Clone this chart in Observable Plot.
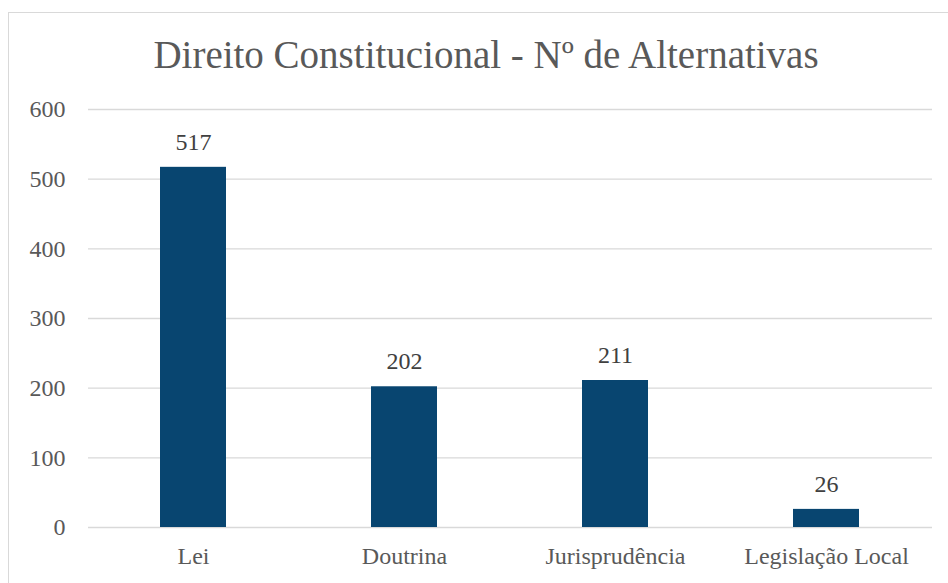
<!DOCTYPE html>
<html>
<head>
<meta charset="utf-8">
<script src="https://cdn.jsdelivr.net/npm/d3@7"></script>
<script src="https://cdn.jsdelivr.net/npm/@observablehq/plot@0.6"></script>
<style>
  html, body { margin: 0; padding: 0; background: #fff; overflow: hidden; }
  #frame { position: absolute; left: 8px; top: 12px; width: 1200px; height: 1000px;
           border-left: 1px solid #d9d9d9; border-top: 1px solid #d9d9d9; }
  #chart { position: absolute; left: 0; top: 0; width: 948px; }
  #title { height: 95px; box-sizing: border-box; padding-top: 35px; padding-left: 24px;
           text-align: center; font-family: "Liberation Serif", serif; font-size: 39px;
           line-height: 39px; color: #595959; white-space: nowrap; }
</style>
</head>
<body>
<div id="frame"></div>
<div id="chart">
  <div id="title">Direito Constitucional - Nº de Alternativas</div>
</div>
<script>
const categories = ["Lei", "Doutrina", "Jurisprudência", "Legislação Local"];
const values = [517, 202, 211, 26];
const yTicks = [0, 100, 200, 300, 400, 500, 600];

const data = categories.map((c, i) => ({cat: c, value: values[i]}));

const chart = Plot.plot({
  width: 948,
  height: 488,
  marginTop: 14,
  marginBottom: 56,
  marginLeft: 88,
  marginRight: 16,
  style: {fontFamily: "'Liberation Serif', serif", fontSize: "24px", color: "#595959", background: "transparent"},
  x: {domain: categories, paddingInner: 0.685, paddingOuter: 0.3425, label: null},
  y: {domain: [0, 600], label: null},
  marks: [
    Plot.gridY(yTicks, {stroke: "#d9d9d9", strokeOpacity: 1, strokeWidth: 1.4}),
    Plot.axisY(yTicks, {tickSize: 0, tickPadding: 23, fill: "#595959", fontSize: 24, label: null}),
    Plot.axisX({tickSize: 0, tickPadding: 19, fill: "#595959", fontSize: 24, label: null}),
    Plot.barY(data, {x: "cat", y: "value", fill: "#084570"}),
    Plot.text(data, {x: "cat", y: "value", text: d => String(d.value), dy: -25, lineAnchor: "middle", fill: "#404040", fontSize: 24})
  ]
});
document.getElementById("chart").appendChild(chart);
</script>
</body>
</html>
